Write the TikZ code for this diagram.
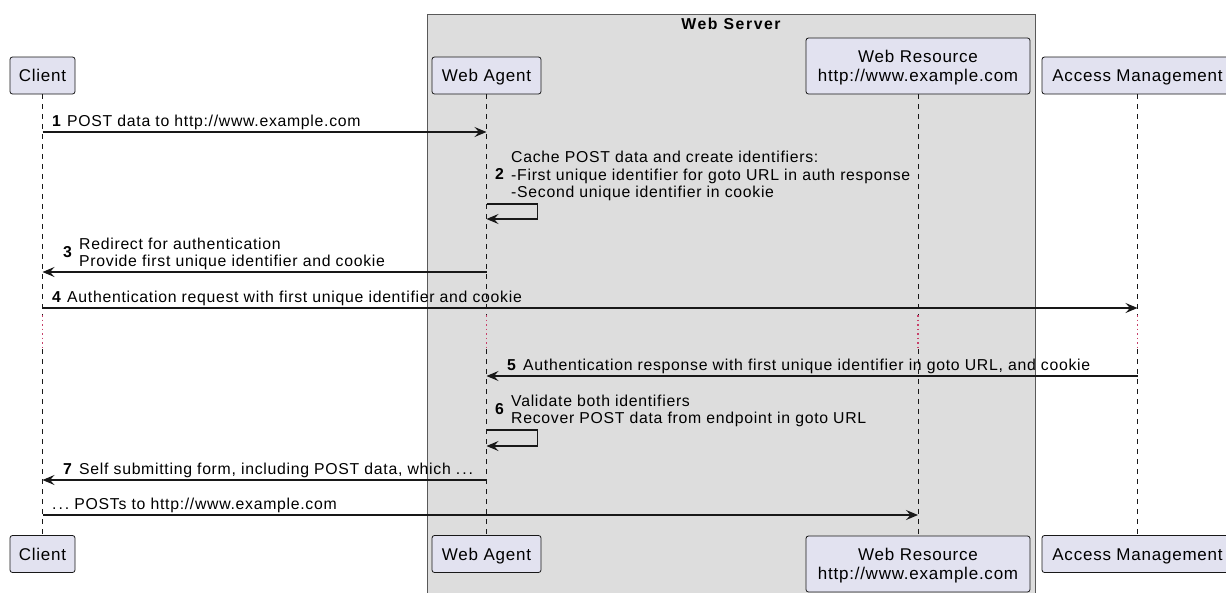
\documentclass[tikz,border=0pt]{standalone}
\usepackage{fontspec}
\setmainfont{Liberation Sans}[LetterSpace=4.5]
\newfontfamily\titlefont{Liberation Sans Bold}[LetterSpace=10]
\usetikzlibrary{arrows.meta}
\definecolor{partfill}{HTML}{E2E2F0}
\definecolor{ink}{HTML}{181818}
\definecolor{boxfill}{HTML}{DDDDDD}
\definecolor{delaycol}{HTML}{C8406A}
\newcommand{\dotsx}{.\kern2pt.\kern2pt.}
\begin{document}
\begin{tikzpicture}[x=1pt,y=-1pt,
  part/.style={draw=ink, fill=partfill, rounded corners=2.5pt, line width=0.8pt,
    inner sep=0pt, font=\fontsize{17}{19}\selectfont, align=center},
  ptext/.style={inner sep=0pt, font=\fontsize{17}{19}\selectfont, align=center},
  one/.style={text height=14pt, text depth=1.8pt},
  life/.style={draw=ink, line width=0.5pt, dash pattern=on 5pt off 5pt},
  delayline/.style={draw=delaycol, line width=1.2pt, dash pattern=on 1.5pt off 3pt},
  msg/.style={draw=ink, line width=1.1pt, arrows={-Stealth[length=12pt,width=10pt,inset=4.5pt]}},
  lbl/.style={inner sep=0pt, anchor=mid west, yshift=-3pt, font=\fontsize{15.8}{17.5}\selectfont, align=left},
  num/.style={inner sep=0pt, anchor=mid west, yshift=-3pt, font=\fontsize{15.8}{17.5}\selectfont\bfseries}]
\useasboundingbox (0,0) rectangle (1226,592);
\fill[white] (0,0) rectangle (1226,592);
% Web Server box
\draw[draw=black!65, fill=boxfill, line width=1pt] (427,14) rectangle (1035,610);
\node[inner sep=0pt, font=\titlefont\fontsize{15.8}{18}\selectfont] (ws) at (731,24) {Web Server};
% participants top
\node[part, one, minimum width=65pt, minimum height=37pt] (ct) at (42.5,75.5) {Client};
\node[part, one, minimum width=109pt, minimum height=37pt] (wat) at (486.5,75.5) {Web Agent};
\node[part, minimum width=224pt, minimum height=56pt] (wrt) at (918,66) {};
\node[ptext] (wrtl) at (918,67.5) {Web Resource\\http://www.example.com};
\node[part, one, minimum width=191pt, minimum height=37pt] (amt) at (1137.5,75.5) {Access Management};
% participants bottom
\node[part, one, minimum width=65pt, minimum height=37pt] (cb) at (42.5,554) {Client};
\node[part, one, minimum width=109pt, minimum height=37pt] (wab) at (486.5,554) {Web Agent};
\node[part, minimum width=224pt, minimum height=56pt] (wrb) at (918,564) {};
\node[ptext] (wrbl) at (918,565.5) {Web Resource\\http://www.example.com};
\node[part, one, minimum width=191pt, minimum height=37pt] (amb) at (1137.5,554) {Access Management};
% delay coordinates
\coordinate (dt) at (0,315);
\coordinate (db) at (0,349);
% lifelines
\foreach \t/\b in {ct/cb, wat/wab, wrt/wrb, amt/amb}{
  \draw[life] (\t.south) -- (\t.south |- dt);
  \draw[delayline] (\t.south |- dt) -- (\t.south |- db);
  \draw[life] (\t.south |- db) -- (\b.north);
}
% message rows
\coordinate (m1) at (0,132);
\coordinate (s2a) at (0,204);
\coordinate (s2b) at (0,219);
\coordinate (m3) at (0,272);
\coordinate (m4) at (0,308);
\coordinate (m5) at (0,376);
\coordinate (s6a) at (0,430);
\coordinate (s6b) at (0,446);
\coordinate (m7) at (0,480);
\coordinate (m8) at (0,515);
% 1
\draw[msg] (ct.south |- m1) -- (wat.south |- m1);
\node[num] (n1) at (52,121) {1};
\node[lbl] (t1) at (67,121) {POST data to http://www.example.com};
% 2
\draw[msg] (wat.south |- s2a) -- ++(51,0) -- ++(0,15) -- (wat.south |- s2b);
\node[num] (n2) at (495,174) {2};
\node[lbl] (t2) at (511,192) {Cache POST data and create identifiers:\\-First unique identifier for goto URL in auth response\\-Second unique identifier in cookie};
% 3
\draw[msg] (wat.south |- m3) -- (ct.south |- m3);
\node[num] (n3) at (63,252) {3};
\node[lbl] (t3) at (79,261) {Redirect for authentication\\Provide first unique identifier and cookie};
% 4
\draw[msg] (ct.south |- m4) -- (amt.south |- m4);
\node[num] (n4) at (52,297) {4};
\node[lbl] (t4) at (67,297) {Authentication request with first unique identifier and cookie};
% 5
\draw[msg] (amt.south |- m5) -- (wat.south |- m5);
\node[num] (n5) at (507,365) {5};
\node[lbl] (t5) at (523,365) {Authentication response with first unique identifier in goto URL, and cookie};
% 6
\draw[msg] (wat.south |- s6a) -- ++(51,0) -- ++(0,16) -- (wat.south |- s6b);
\node[num] (n6) at (495,409) {6};
\node[lbl] (t6) at (511,418) {Validate both identifiers\\Recover POST data from endpoint in goto URL};
% 7
\draw[msg] (wat.south |- m7) -- (ct.south |- m7);
\node[num] (n7) at (63,469) {7};
\node[lbl] (t7) at (79,469) {Self submitting form, including POST data, which \dotsx};
% 8
\draw[msg] (ct.south |- m8) -- (wrt.south |- m8);
\node[lbl] (t8) at (52,504) {\dotsx\ POSTs to http://www.example.com};
\end{tikzpicture}
\end{document}
